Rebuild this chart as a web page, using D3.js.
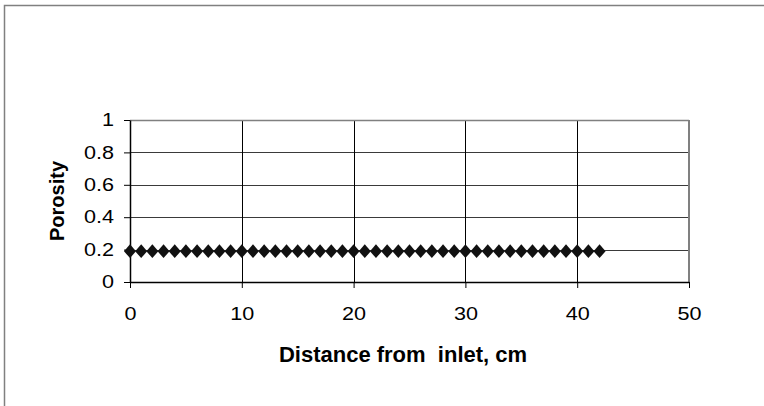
<!DOCTYPE html>
<meta charset="utf-8">
<script src="https://d3js.org/d3.v7.min.js"></script>
<style>
  body { margin: 0; background: #fff; }
  svg { display: block; font-family: "Liberation Sans", Arial, sans-serif; }
</style>
<div id="chart"></div>
<script>
// data
var distance = [0, 1, 2, 3, 4, 5, 6, 7, 8, 9, 10, 11, 12, 13, 14, 15, 16, 17, 18, 19, 20,
                21, 22, 23, 24, 25, 26, 27, 28, 29, 30, 31, 32, 33, 34, 35, 36, 37, 38, 39, 40, 41, 42];
var porosity = [0.19, 0.19, 0.19, 0.19, 0.19, 0.19, 0.19, 0.19, 0.19, 0.19, 0.19,
                0.19, 0.19, 0.19, 0.19, 0.19, 0.19, 0.19, 0.19, 0.19, 0.19,
                0.19, 0.19, 0.19, 0.19, 0.19, 0.19, 0.19, 0.19, 0.19, 0.19,
                0.19, 0.19, 0.19, 0.19, 0.19, 0.19, 0.19, 0.19, 0.19, 0.19,
                0.19, 0.19];
var xTicks = [0, 10, 20, 30, 40, 50];
var yTicks = [0, 0.2, 0.4, 0.6, 0.8, 1];

var W = 764, H = 406;
var margin = {top: 120, right: 75, bottom: 124, left: 130};
var width = W - margin.left - margin.right,
    height = H - margin.top - margin.bottom;

var svg = d3.select("#chart").append("svg")
    .attr("width", W)
    .attr("height", H);

// outer chart frame (runs off the right and bottom)
svg.append("rect")
    .attr("x", 4.5).attr("y", 5.5)
    .attr("width", 820).attr("height", 460)
    .attr("fill", "none")
    .attr("stroke", "#808080")
    .attr("stroke-width", 1.5);

var g = svg.append("g")
    .attr("transform", "translate(" + margin.left + "," + margin.top + ")");

var x = d3.scaleLinear().domain([0, 50]).range([0, width]);
var y = d3.scaleLinear().domain([0, 1]).range([height, 0]);

// gridlines
g.selectAll(".hgrid").data(yTicks.slice(1, -1)).enter().append("line")
    .attr("x1", 0).attr("x2", width)
    .attr("y1", function(d) { return Math.round(y(d)) + 0.5; })
    .attr("y2", function(d) { return Math.round(y(d)) + 0.5; })
    .attr("stroke", "#3a3a3a").attr("stroke-width", 1);
g.selectAll(".vgrid").data(xTicks.slice(1, -1)).enter().append("line")
    .attr("y1", 0).attr("y2", height)
    .attr("x1", function(d) { return Math.round(x(d)) + 0.5; })
    .attr("x2", function(d) { return Math.round(x(d)) + 0.5; })
    .attr("stroke", "#000").attr("stroke-width", 1);

// top and right border of plot area
g.append("line").attr("x1", 0).attr("x2", width).attr("y1", 0.5).attr("y2", 0.5)
    .attr("stroke", "#808080").attr("stroke-width", 1.5);
g.append("line").attr("x1", width).attr("x2", width).attr("y1", 0).attr("y2", height)
    .attr("stroke", "#808080").attr("stroke-width", 2);

// axes
var xAxis = g.append("g")
    .attr("transform", "translate(0," + height + ")")
    .call(d3.axisBottom(x).tickValues(xTicks).tickSizeInner(6).tickSizeOuter(0).tickPadding(19)
        .tickFormat(d3.format("d")));
var yAxis = g.append("g")
    .call(d3.axisLeft(y).tickValues(yTicks).tickSizeInner(6).tickSizeOuter(0).tickPadding(10)
        .tickFormat(function(d) { return d3.format("")(d); }));

// tick labels in the picture are a little wider than plain Arial
var stretch = 1.2;
[xAxis, yAxis].forEach(function(a) {
  a.attr("font-size", 18).attr("font-family", "'Liberation Sans', Arial, sans-serif");
  a.select(".domain").attr("stroke", "#000").attr("stroke-width", 1.5);
  a.selectAll(".tick line").attr("stroke", "#000");
  a.selectAll(".tick text")
    .attr("fill", "#000")
    .attr("x", function() { return +d3.select(this).attr("x") / stretch; })
    .attr("transform", "scale(" + stretch + ",1)");
});

// markers: flat diamond, a bit wider than d3's default one
var flatDiamond = {
  draw: function(ctx, size) {
    var r = Math.sqrt(size) / 2;
    ctx.moveTo(0, -r * 1.15);
    ctx.lineTo(r, 0);
    ctx.lineTo(0, r * 1.15);
    ctx.lineTo(-r, 0);
    ctx.closePath();
  }
};
var diamond = d3.symbol().type(flatDiamond).size(144);
g.selectAll(".pt").data(distance).enter().append("path")
    .attr("d", diamond)
    .attr("transform", function(d, i) {
      return "translate(" + x(d) + "," + y(porosity[i]) + ")";
    })
    .attr("fill", "#111");

// axis titles
svg.append("text")
    .attr("x", 403).attr("y", 362)
    .attr("text-anchor", "middle")
    .style("font-size", "22px").style("font-weight", "bold")
    .text("Distance from \u00a0inlet, cm");

svg.append("text")
    .attr("transform", "translate(64,201) rotate(-90)")
    .attr("text-anchor", "middle")
    .style("font-size", "20px").style("font-weight", "bold")
    .text("Porosity");
</script>
